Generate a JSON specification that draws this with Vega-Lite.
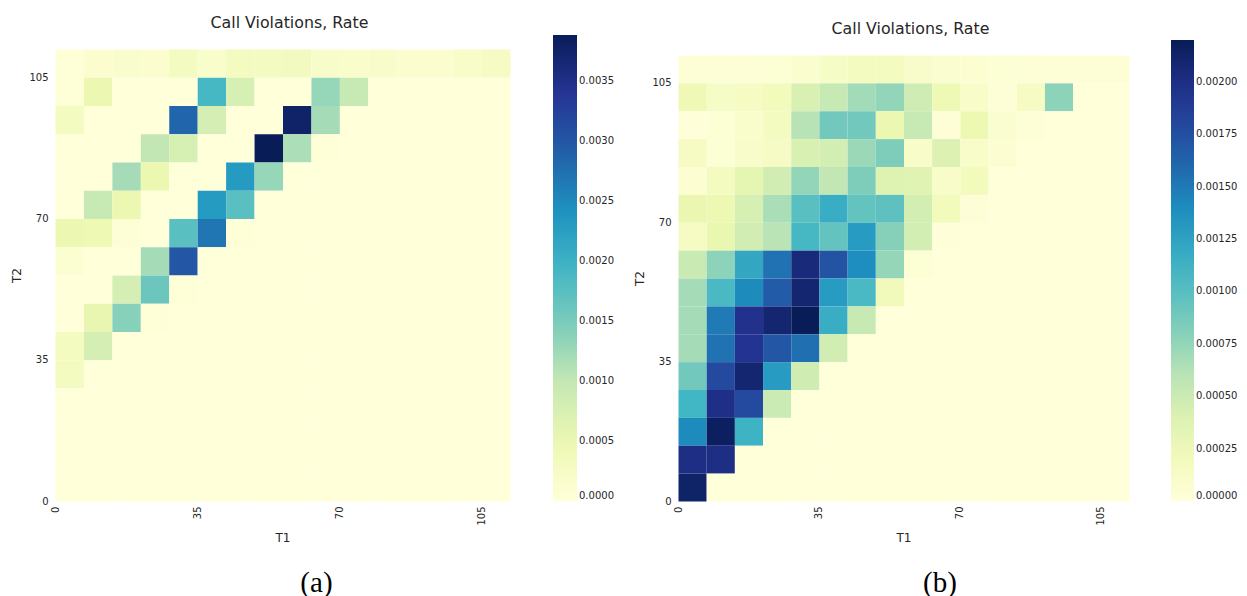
{
  "$schema": "https://vega.github.io/schema/vega-lite/v6.json",
  "background": "white",
  "padding": {"left": 10, "top": 15, "right": 0, "bottom": 0},
  "config": {
    "font": "DejaVu Sans",
    "view": {"stroke": null},
    "axis": {"domain": false, "ticks": false, "tickSize": 0, "grid": false, "labelFontSize": 10, "labelColor": "#262626", "titleFontSize": 12, "titleFontWeight": "normal", "titleColor": "#262626", "labelFlush": false, "labelOverlap": false, "labelBound": false},
    "legend": {"labelFontSize": 10, "labelColor": "#262626", "labelOffset": 6, "labelBaseline": "middle", "gradientStrokeWidth": 0, "direction": "vertical", "title": null},
    "title": {"font": "DejaVu Sans", "fontSize": 15.8, "fontWeight": "normal", "color": "#262626"},
    "concat": {"spacing": 19}
  },
  "datasets": {
    "a": [
      {"t1":0,"t2":105,"rate":0.00003},{"t1":7,"t2":105,"rate":0.00012},{"t1":14,"t2":105,"rate":0.00015},{"t1":21,"t2":105,"rate":0.00012},{"t1":28,"t2":105,"rate":0.0003},{"t1":35,"t2":105,"rate":0.00016},{"t1":42,"t2":105,"rate":0.0003},{"t1":49,"t2":105,"rate":0.0003},{"t1":56,"t2":105,"rate":0.00032},{"t1":63,"t2":105,"rate":0.00018},{"t1":70,"t2":105,"rate":0.00016},{"t1":77,"t2":105,"rate":0.00018},{"t1":84,"t2":105,"rate":0.00012},{"t1":91,"t2":105,"rate":0.00012},{"t1":98,"t2":105,"rate":0.0002},{"t1":105,"t2":105,"rate":0.00027},
      {"t1":0,"t2":98,"rate":0.00002},{"t1":7,"t2":98,"rate":0.0005},{"t1":14,"t2":98,"rate":0},{"t1":21,"t2":98,"rate":0},{"t1":28,"t2":98,"rate":0},{"t1":35,"t2":98,"rate":0.0019},{"t1":42,"t2":98,"rate":0.00078},{"t1":49,"t2":98,"rate":0},{"t1":56,"t2":98,"rate":0},{"t1":63,"t2":98,"rate":0.0013},{"t1":70,"t2":98,"rate":0.00097},{"t1":77,"t2":98,"rate":0},{"t1":84,"t2":98,"rate":0},{"t1":91,"t2":98,"rate":0},{"t1":98,"t2":98,"rate":0},{"t1":105,"t2":98,"rate":0},
      {"t1":0,"t2":91,"rate":0.0003},{"t1":7,"t2":91,"rate":0},{"t1":14,"t2":91,"rate":0},{"t1":21,"t2":91,"rate":0},{"t1":28,"t2":91,"rate":0.00283},{"t1":35,"t2":91,"rate":0.0008},{"t1":42,"t2":91,"rate":0},{"t1":49,"t2":91,"rate":0},{"t1":56,"t2":91,"rate":0.00375},{"t1":63,"t2":91,"rate":0.0012},{"t1":70,"t2":91,"rate":0},{"t1":77,"t2":91,"rate":0},{"t1":84,"t2":91,"rate":0},{"t1":91,"t2":91,"rate":0},{"t1":98,"t2":91,"rate":0},{"t1":105,"t2":91,"rate":0},
      {"t1":0,"t2":84,"rate":0},{"t1":7,"t2":84,"rate":0},{"t1":14,"t2":84,"rate":0},{"t1":21,"t2":84,"rate":0.001},{"t1":28,"t2":84,"rate":0.00078},{"t1":35,"t2":84,"rate":0},{"t1":42,"t2":84,"rate":0},{"t1":49,"t2":84,"rate":0.00388},{"t1":56,"t2":84,"rate":0.00115},{"t1":63,"t2":84,"rate":0.00003},{"t1":70,"t2":84,"rate":0},{"t1":77,"t2":84,"rate":0},{"t1":84,"t2":84,"rate":0},{"t1":91,"t2":84,"rate":0},{"t1":98,"t2":84,"rate":0},{"t1":105,"t2":84,"rate":0},
      {"t1":0,"t2":77,"rate":0},{"t1":7,"t2":77,"rate":0},{"t1":14,"t2":77,"rate":0.0012},{"t1":21,"t2":77,"rate":0.0005},{"t1":28,"t2":77,"rate":0},{"t1":35,"t2":77,"rate":0},{"t1":42,"t2":77,"rate":0.0023},{"t1":49,"t2":77,"rate":0.0013},{"t1":56,"t2":77,"rate":0},{"t1":63,"t2":77,"rate":0},{"t1":70,"t2":77,"rate":0},{"t1":77,"t2":77,"rate":0},{"t1":84,"t2":77,"rate":0},{"t1":91,"t2":77,"rate":0},{"t1":98,"t2":77,"rate":0},{"t1":105,"t2":77,"rate":0},
      {"t1":0,"t2":70,"rate":0},{"t1":7,"t2":70,"rate":0.00097},{"t1":14,"t2":70,"rate":0.0005},{"t1":21,"t2":70,"rate":0},{"t1":28,"t2":70,"rate":0},{"t1":35,"t2":70,"rate":0.0023},{"t1":42,"t2":70,"rate":0.00175},{"t1":49,"t2":70,"rate":0},{"t1":56,"t2":70,"rate":0},{"t1":63,"t2":70,"rate":0},{"t1":70,"t2":70,"rate":0},{"t1":77,"t2":70,"rate":0},{"t1":84,"t2":70,"rate":0},{"t1":91,"t2":70,"rate":0},{"t1":98,"t2":70,"rate":0},{"t1":105,"t2":70,"rate":0},
      {"t1":0,"t2":63,"rate":0.0005},{"t1":7,"t2":63,"rate":0.00045},{"t1":14,"t2":63,"rate":0.00005},{"t1":21,"t2":63,"rate":0},{"t1":28,"t2":63,"rate":0.00175},{"t1":35,"t2":63,"rate":0.00268},{"t1":42,"t2":63,"rate":0.00003},{"t1":49,"t2":63,"rate":0},{"t1":56,"t2":63,"rate":0},{"t1":63,"t2":63,"rate":0},{"t1":70,"t2":63,"rate":0},{"t1":77,"t2":63,"rate":0},{"t1":84,"t2":63,"rate":0},{"t1":91,"t2":63,"rate":0},{"t1":98,"t2":63,"rate":0},{"t1":105,"t2":63,"rate":0},
      {"t1":0,"t2":56,"rate":0.0001},{"t1":7,"t2":56,"rate":0},{"t1":14,"t2":56,"rate":0},{"t1":21,"t2":56,"rate":0.0012},{"t1":28,"t2":56,"rate":0.003},{"t1":35,"t2":56,"rate":0},{"t1":42,"t2":56,"rate":0},{"t1":49,"t2":56,"rate":0},{"t1":56,"t2":56,"rate":0},{"t1":63,"t2":56,"rate":0},{"t1":70,"t2":56,"rate":0},{"t1":77,"t2":56,"rate":0},{"t1":84,"t2":56,"rate":0},{"t1":91,"t2":56,"rate":0},{"t1":98,"t2":56,"rate":0},{"t1":105,"t2":56,"rate":0},
      {"t1":0,"t2":49,"rate":0},{"t1":7,"t2":49,"rate":0},{"t1":14,"t2":49,"rate":0.0008},{"t1":21,"t2":49,"rate":0.0016},{"t1":28,"t2":49,"rate":0.00003},{"t1":35,"t2":49,"rate":0},{"t1":42,"t2":49,"rate":0},{"t1":49,"t2":49,"rate":0},{"t1":56,"t2":49,"rate":0},{"t1":63,"t2":49,"rate":0},{"t1":70,"t2":49,"rate":0},{"t1":77,"t2":49,"rate":0},{"t1":84,"t2":49,"rate":0},{"t1":91,"t2":49,"rate":0},{"t1":98,"t2":49,"rate":0},{"t1":105,"t2":49,"rate":0},
      {"t1":0,"t2":42,"rate":0},{"t1":7,"t2":42,"rate":0.00055},{"t1":14,"t2":42,"rate":0.0014},{"t1":21,"t2":42,"rate":0.00003},{"t1":28,"t2":42,"rate":0},{"t1":35,"t2":42,"rate":0},{"t1":42,"t2":42,"rate":0},{"t1":49,"t2":42,"rate":0},{"t1":56,"t2":42,"rate":0},{"t1":63,"t2":42,"rate":0},{"t1":70,"t2":42,"rate":0},{"t1":77,"t2":42,"rate":0},{"t1":84,"t2":42,"rate":0},{"t1":91,"t2":42,"rate":0},{"t1":98,"t2":42,"rate":0},{"t1":105,"t2":42,"rate":0},
      {"t1":0,"t2":35,"rate":0.0003},{"t1":7,"t2":35,"rate":0.0008},{"t1":14,"t2":35,"rate":0},{"t1":21,"t2":35,"rate":0},{"t1":28,"t2":35,"rate":0},{"t1":35,"t2":35,"rate":0},{"t1":42,"t2":35,"rate":0},{"t1":49,"t2":35,"rate":0},{"t1":56,"t2":35,"rate":0},{"t1":63,"t2":35,"rate":0},{"t1":70,"t2":35,"rate":0},{"t1":77,"t2":35,"rate":0},{"t1":84,"t2":35,"rate":0},{"t1":91,"t2":35,"rate":0},{"t1":98,"t2":35,"rate":0},{"t1":105,"t2":35,"rate":0},
      {"t1":0,"t2":28,"rate":0.0003},{"t1":7,"t2":28,"rate":0},{"t1":14,"t2":28,"rate":0},{"t1":21,"t2":28,"rate":0},{"t1":28,"t2":28,"rate":0},{"t1":35,"t2":28,"rate":0},{"t1":42,"t2":28,"rate":0},{"t1":49,"t2":28,"rate":0},{"t1":56,"t2":28,"rate":0},{"t1":63,"t2":28,"rate":0},{"t1":70,"t2":28,"rate":0},{"t1":77,"t2":28,"rate":0},{"t1":84,"t2":28,"rate":0},{"t1":91,"t2":28,"rate":0},{"t1":98,"t2":28,"rate":0},{"t1":105,"t2":28,"rate":0},
      {"t1":0,"t2":21,"rate":0},{"t1":7,"t2":21,"rate":0},{"t1":14,"t2":21,"rate":0},{"t1":21,"t2":21,"rate":0},{"t1":28,"t2":21,"rate":0},{"t1":35,"t2":21,"rate":0},{"t1":42,"t2":21,"rate":0},{"t1":49,"t2":21,"rate":0},{"t1":56,"t2":21,"rate":0},{"t1":63,"t2":21,"rate":0},{"t1":70,"t2":21,"rate":0},{"t1":77,"t2":21,"rate":0},{"t1":84,"t2":21,"rate":0},{"t1":91,"t2":21,"rate":0},{"t1":98,"t2":21,"rate":0},{"t1":105,"t2":21,"rate":0},
      {"t1":0,"t2":14,"rate":0},{"t1":7,"t2":14,"rate":0},{"t1":14,"t2":14,"rate":0},{"t1":21,"t2":14,"rate":0},{"t1":28,"t2":14,"rate":0},{"t1":35,"t2":14,"rate":0},{"t1":42,"t2":14,"rate":0},{"t1":49,"t2":14,"rate":0},{"t1":56,"t2":14,"rate":0},{"t1":63,"t2":14,"rate":0},{"t1":70,"t2":14,"rate":0},{"t1":77,"t2":14,"rate":0},{"t1":84,"t2":14,"rate":0},{"t1":91,"t2":14,"rate":0},{"t1":98,"t2":14,"rate":0},{"t1":105,"t2":14,"rate":0},
      {"t1":0,"t2":7,"rate":0},{"t1":7,"t2":7,"rate":0},{"t1":14,"t2":7,"rate":0},{"t1":21,"t2":7,"rate":0},{"t1":28,"t2":7,"rate":0},{"t1":35,"t2":7,"rate":0},{"t1":42,"t2":7,"rate":0},{"t1":49,"t2":7,"rate":0},{"t1":56,"t2":7,"rate":0},{"t1":63,"t2":7,"rate":0},{"t1":70,"t2":7,"rate":0},{"t1":77,"t2":7,"rate":0},{"t1":84,"t2":7,"rate":0},{"t1":91,"t2":7,"rate":0},{"t1":98,"t2":7,"rate":0},{"t1":105,"t2":7,"rate":0},
      {"t1":0,"t2":0,"rate":0},{"t1":7,"t2":0,"rate":0},{"t1":14,"t2":0,"rate":0},{"t1":21,"t2":0,"rate":0},{"t1":28,"t2":0,"rate":0},{"t1":35,"t2":0,"rate":0},{"t1":42,"t2":0,"rate":0},{"t1":49,"t2":0,"rate":0},{"t1":56,"t2":0,"rate":0},{"t1":63,"t2":0,"rate":0},{"t1":70,"t2":0,"rate":0},{"t1":77,"t2":0,"rate":0},{"t1":84,"t2":0,"rate":0},{"t1":91,"t2":0,"rate":0},{"t1":98,"t2":0,"rate":0},{"t1":105,"t2":0,"rate":0}
    ],
    "b": [
      {"t1":0,"t2":105,"rate":0.00002},{"t1":7,"t2":105,"rate":0.00003},{"t1":14,"t2":105,"rate":0.00003},{"t1":21,"t2":105,"rate":0.00004},{"t1":28,"t2":105,"rate":0.00008},{"t1":35,"t2":105,"rate":0.00013},{"t1":42,"t2":105,"rate":0.00017},{"t1":49,"t2":105,"rate":0.00017},{"t1":56,"t2":105,"rate":0.0001},{"t1":63,"t2":105,"rate":0.00007},{"t1":70,"t2":105,"rate":0.00005},{"t1":77,"t2":105,"rate":0.00004},{"t1":84,"t2":105,"rate":0.00003},{"t1":91,"t2":105,"rate":0.00002},{"t1":98,"t2":105,"rate":0.00002},{"t1":105,"t2":105,"rate":0.00002},
      {"t1":0,"t2":98,"rate":0.00025},{"t1":7,"t2":98,"rate":0.00013},{"t1":14,"t2":98,"rate":0.00016},{"t1":21,"t2":98,"rate":0.0002},{"t1":28,"t2":98,"rate":0.00042},{"t1":35,"t2":98,"rate":0.00055},{"t1":42,"t2":98,"rate":0.00069},{"t1":49,"t2":98,"rate":0.00075},{"t1":56,"t2":98,"rate":0.0005},{"t1":63,"t2":98,"rate":0.00024},{"t1":70,"t2":98,"rate":0.00012},{"t1":77,"t2":98,"rate":0.00002},{"t1":84,"t2":98,"rate":0.00015},{"t1":91,"t2":98,"rate":0.00077},{"t1":98,"t2":98,"rate":0},{"t1":105,"t2":98,"rate":0},
      {"t1":0,"t2":91,"rate":0.00001},{"t1":7,"t2":91,"rate":0.00004},{"t1":14,"t2":91,"rate":0.00009},{"t1":21,"t2":91,"rate":0.00017},{"t1":28,"t2":91,"rate":0.00061},{"t1":35,"t2":91,"rate":0.00088},{"t1":42,"t2":91,"rate":0.00088},{"t1":49,"t2":91,"rate":0.00028},{"t1":56,"t2":91,"rate":0.00055},{"t1":63,"t2":91,"rate":0.00003},{"t1":70,"t2":91,"rate":0.00027},{"t1":77,"t2":91,"rate":0.00007},{"t1":84,"t2":91,"rate":0.00002},{"t1":91,"t2":91,"rate":0},{"t1":98,"t2":91,"rate":0},{"t1":105,"t2":91,"rate":0},
      {"t1":0,"t2":84,"rate":0.00016},{"t1":7,"t2":84,"rate":0.00004},{"t1":14,"t2":84,"rate":0.0001},{"t1":21,"t2":84,"rate":0.00014},{"t1":28,"t2":84,"rate":0.00042},{"t1":35,"t2":84,"rate":0.00046},{"t1":42,"t2":84,"rate":0.00072},{"t1":49,"t2":84,"rate":0.00083},{"t1":56,"t2":84,"rate":0.00012},{"t1":63,"t2":84,"rate":0.0004},{"t1":70,"t2":84,"rate":0.00012},{"t1":77,"t2":84,"rate":0.00005},{"t1":84,"t2":84,"rate":0},{"t1":91,"t2":84,"rate":0},{"t1":98,"t2":84,"rate":0},{"t1":105,"t2":84,"rate":0},
      {"t1":0,"t2":77,"rate":0.00005},{"t1":7,"t2":77,"rate":0.00017},{"t1":14,"t2":77,"rate":0.00033},{"t1":21,"t2":77,"rate":0.00048},{"t1":28,"t2":77,"rate":0.00075},{"t1":35,"t2":77,"rate":0.00057},{"t1":42,"t2":77,"rate":0.00083},{"t1":49,"t2":77,"rate":0.00038},{"t1":56,"t2":77,"rate":0.00037},{"t1":63,"t2":77,"rate":0.00012},{"t1":70,"t2":77,"rate":0.0002},{"t1":77,"t2":77,"rate":0},{"t1":84,"t2":77,"rate":0},{"t1":91,"t2":77,"rate":0},{"t1":98,"t2":77,"rate":0},{"t1":105,"t2":77,"rate":0},
      {"t1":0,"t2":70,"rate":0.00029},{"t1":7,"t2":70,"rate":0.00027},{"t1":14,"t2":70,"rate":0.00044},{"t1":21,"t2":70,"rate":0.00066},{"t1":28,"t2":70,"rate":0.00099},{"t1":35,"t2":70,"rate":0.00117},{"t1":42,"t2":70,"rate":0.00095},{"t1":49,"t2":70,"rate":0.00097},{"t1":56,"t2":70,"rate":0.00046},{"t1":63,"t2":70,"rate":0.0002},{"t1":70,"t2":70,"rate":0.00002},{"t1":77,"t2":70,"rate":0},{"t1":84,"t2":70,"rate":0},{"t1":91,"t2":70,"rate":0},{"t1":98,"t2":70,"rate":0},{"t1":105,"t2":70,"rate":0},
      {"t1":0,"t2":63,"rate":0.00015},{"t1":7,"t2":63,"rate":0.0003},{"t1":14,"t2":63,"rate":0.00048},{"t1":21,"t2":63,"rate":0.0006},{"t1":28,"t2":63,"rate":0.00108},{"t1":35,"t2":63,"rate":0.00095},{"t1":42,"t2":63,"rate":0.0013},{"t1":49,"t2":63,"rate":0.0008},{"t1":56,"t2":63,"rate":0.00046},{"t1":63,"t2":63,"rate":0.00001},{"t1":70,"t2":63,"rate":0},{"t1":77,"t2":63,"rate":0},{"t1":84,"t2":63,"rate":0},{"t1":91,"t2":63,"rate":0},{"t1":98,"t2":63,"rate":0},{"t1":105,"t2":63,"rate":0},
      {"t1":0,"t2":56,"rate":0.00053},{"t1":7,"t2":56,"rate":0.00077},{"t1":14,"t2":56,"rate":0.00121},{"t1":21,"t2":56,"rate":0.00154},{"t1":28,"t2":56,"rate":0.00205},{"t1":35,"t2":56,"rate":0.00172},{"t1":42,"t2":56,"rate":0.00139},{"t1":49,"t2":56,"rate":0.00074},{"t1":56,"t2":56,"rate":0.00004},{"t1":63,"t2":56,"rate":0},{"t1":70,"t2":56,"rate":0},{"t1":77,"t2":56,"rate":0},{"t1":84,"t2":56,"rate":0},{"t1":91,"t2":56,"rate":0},{"t1":98,"t2":56,"rate":0},{"t1":105,"t2":56,"rate":0},
      {"t1":0,"t2":49,"rate":0.00068},{"t1":7,"t2":49,"rate":0.00106},{"t1":14,"t2":49,"rate":0.00141},{"t1":21,"t2":49,"rate":0.00167},{"t1":28,"t2":49,"rate":0.00209},{"t1":35,"t2":49,"rate":0.0013},{"t1":42,"t2":49,"rate":0.00106},{"t1":49,"t2":49,"rate":0.00021},{"t1":56,"t2":49,"rate":0},{"t1":63,"t2":49,"rate":0},{"t1":70,"t2":49,"rate":0},{"t1":77,"t2":49,"rate":0},{"t1":84,"t2":49,"rate":0},{"t1":91,"t2":49,"rate":0},{"t1":98,"t2":49,"rate":0},{"t1":105,"t2":49,"rate":0},
      {"t1":0,"t2":42,"rate":0.00068},{"t1":7,"t2":42,"rate":0.0015},{"t1":14,"t2":42,"rate":0.00196},{"t1":21,"t2":42,"rate":0.00209},{"t1":28,"t2":42,"rate":0.0022},{"t1":35,"t2":42,"rate":0.00117},{"t1":42,"t2":42,"rate":0.00055},{"t1":49,"t2":42,"rate":0},{"t1":56,"t2":42,"rate":0},{"t1":63,"t2":42,"rate":0},{"t1":70,"t2":42,"rate":0},{"t1":77,"t2":42,"rate":0},{"t1":84,"t2":42,"rate":0},{"t1":91,"t2":42,"rate":0},{"t1":98,"t2":42,"rate":0},{"t1":105,"t2":42,"rate":0},
      {"t1":0,"t2":35,"rate":0.00068},{"t1":7,"t2":35,"rate":0.00154},{"t1":14,"t2":35,"rate":0.00194},{"t1":21,"t2":35,"rate":0.0017},{"t1":28,"t2":35,"rate":0.00156},{"t1":35,"t2":35,"rate":0.00048},{"t1":42,"t2":35,"rate":0},{"t1":49,"t2":35,"rate":0},{"t1":56,"t2":35,"rate":0},{"t1":63,"t2":35,"rate":0},{"t1":70,"t2":35,"rate":0},{"t1":77,"t2":35,"rate":0},{"t1":84,"t2":35,"rate":0},{"t1":91,"t2":35,"rate":0},{"t1":98,"t2":35,"rate":0},{"t1":105,"t2":35,"rate":0},
      {"t1":0,"t2":28,"rate":0.00088},{"t1":7,"t2":28,"rate":0.00178},{"t1":14,"t2":28,"rate":0.00209},{"t1":21,"t2":28,"rate":0.0013},{"t1":28,"t2":28,"rate":0.00049},{"t1":35,"t2":28,"rate":0},{"t1":42,"t2":28,"rate":0},{"t1":49,"t2":28,"rate":0},{"t1":56,"t2":28,"rate":0},{"t1":63,"t2":28,"rate":0},{"t1":70,"t2":28,"rate":0},{"t1":77,"t2":28,"rate":0},{"t1":84,"t2":28,"rate":0},{"t1":91,"t2":28,"rate":0},{"t1":98,"t2":28,"rate":0},{"t1":105,"t2":28,"rate":0},
      {"t1":0,"t2":21,"rate":0.0011},{"t1":7,"t2":21,"rate":0.00198},{"t1":14,"t2":21,"rate":0.00178},{"t1":21,"t2":21,"rate":0.00052},{"t1":28,"t2":21,"rate":0},{"t1":35,"t2":21,"rate":0},{"t1":42,"t2":21,"rate":0},{"t1":49,"t2":21,"rate":0},{"t1":56,"t2":21,"rate":0},{"t1":63,"t2":21,"rate":0},{"t1":70,"t2":21,"rate":0},{"t1":77,"t2":21,"rate":0},{"t1":84,"t2":21,"rate":0},{"t1":91,"t2":21,"rate":0},{"t1":98,"t2":21,"rate":0},{"t1":105,"t2":21,"rate":0},
      {"t1":0,"t2":14,"rate":0.00141},{"t1":7,"t2":14,"rate":0.00216},{"t1":14,"t2":14,"rate":0.00112},{"t1":21,"t2":14,"rate":0},{"t1":28,"t2":14,"rate":0},{"t1":35,"t2":14,"rate":0},{"t1":42,"t2":14,"rate":0},{"t1":49,"t2":14,"rate":0},{"t1":56,"t2":14,"rate":0},{"t1":63,"t2":14,"rate":0},{"t1":70,"t2":14,"rate":0},{"t1":77,"t2":14,"rate":0},{"t1":84,"t2":14,"rate":0},{"t1":91,"t2":14,"rate":0},{"t1":98,"t2":14,"rate":0},{"t1":105,"t2":14,"rate":0},
      {"t1":0,"t2":7,"rate":0.002},{"t1":7,"t2":7,"rate":0.002},{"t1":14,"t2":7,"rate":0},{"t1":21,"t2":7,"rate":0},{"t1":28,"t2":7,"rate":0},{"t1":35,"t2":7,"rate":0},{"t1":42,"t2":7,"rate":0},{"t1":49,"t2":7,"rate":0},{"t1":56,"t2":7,"rate":0},{"t1":63,"t2":7,"rate":0},{"t1":70,"t2":7,"rate":0},{"t1":77,"t2":7,"rate":0},{"t1":84,"t2":7,"rate":0},{"t1":91,"t2":7,"rate":0},{"t1":98,"t2":7,"rate":0},{"t1":105,"t2":7,"rate":0},
      {"t1":0,"t2":0,"rate":0.00213},{"t1":7,"t2":0,"rate":0},{"t1":14,"t2":0,"rate":0},{"t1":21,"t2":0,"rate":0},{"t1":28,"t2":0,"rate":0},{"t1":35,"t2":0,"rate":0},{"t1":42,"t2":0,"rate":0},{"t1":49,"t2":0,"rate":0},{"t1":56,"t2":0,"rate":0},{"t1":63,"t2":0,"rate":0},{"t1":70,"t2":0,"rate":0},{"t1":77,"t2":0,"rate":0},{"t1":84,"t2":0,"rate":0},{"t1":91,"t2":0,"rate":0},{"t1":98,"t2":0,"rate":0},{"t1":105,"t2":0,"rate":0}
    ]
  },
  "resolve": {"scale": {"color": "independent"}, "legend": {"color": "independent"}},
  "hconcat": [
    {
      "title": {"text": "(a)", "orient": "bottom", "anchor": "middle", "frame": "bounds", "font": "Liberation Serif", "fontSize": 29, "color": "#000000", "offset": 26, "dx": 4},
      "resolve": {"scale": {"color": "independent"}, "legend": {"color": "independent"}},
      "vconcat": [
        {
          "title": {"text": "Call Violations, Rate", "anchor": "middle", "frame": "group", "offset": 3, "dx": 7},
          "width": 455,
          "height": 452,
          "data": {"name": "a"},
          "mark": {"type": "rect"},
          "encoding": {
            "x": {"field": "t1", "type": "quantitative", "bin": {"step": 7, "extent": [0, 112]}, "scale": {"domain": [0, 112]},
                  "axis": {"title": "T1", "values": [0, 35, 70, 105], "labelAngle": -90, "labelPadding": 5, "titlePadding": 7}},
            "y": {"field": "t2", "type": "quantitative", "bin": {"step": 7, "extent": [0, 112]}, "scale": {"domain": [0, 112]},
                  "axis": {"title": "T2", "values": [0, 35, 70, 105], "labelPadding": 7, "titlePadding": 5}},
            "color": {"field": "rate", "type": "quantitative",
                      "scale": {"domain": [0, 0.000485, 0.00097, 0.001455, 0.00194, 0.002425, 0.00291, 0.003395, 0.00388],
                                "range": ["#ffffd9", "#edf8b1", "#c7e9b4", "#7fcdbb", "#41b6c4", "#1d91c0", "#225ea8", "#253494", "#081d58"],
                                "interpolate": "rgb"},
                      "legend": {"orient": "none", "legendX": 498, "legendY": -14, "gradientLength": 466, "gradientThickness": 24,
                                 "values": [0, 0.0005, 0.001, 0.0015, 0.002, 0.0025, 0.003, 0.0035], "format": ".4f"}}
          }
        }
      ]
    },
    {
      "title": {"text": "(b)", "orient": "bottom", "anchor": "middle", "frame": "bounds", "font": "Liberation Serif", "fontSize": 29, "color": "#000000", "offset": 26, "dx": 4},
      "resolve": {"scale": {"color": "independent"}, "legend": {"color": "independent"}},
      "vconcat": [
        {
          "title": {"text": "Call Violations, Rate", "anchor": "middle", "frame": "group", "offset": 2, "dx": 7},
          "width": 451,
          "height": 452,
          "data": {"name": "b"},
          "mark": {"type": "rect"},
          "encoding": {
            "x": {"field": "t1", "type": "quantitative", "bin": {"step": 7, "extent": [0, 112]}, "scale": {"domain": [0, 112]},
                  "axis": {"title": "T1", "values": [0, 35, 70, 105], "labelAngle": -90, "labelPadding": 5, "titlePadding": 7}},
            "y": {"field": "t2", "type": "quantitative", "bin": {"step": 7, "extent": [0, 112]}, "scale": {"domain": [0, 112], "range": [452, 6]},
                  "axis": {"title": "T2", "values": [0, 35, 70, 105], "labelPadding": 7, "titlePadding": 5}},
            "color": {"field": "rate", "type": "quantitative",
                      "scale": {"domain": [0, 0.000275, 0.00055, 0.000825, 0.0011, 0.001375, 0.00165, 0.001925, 0.0022],
                                "range": ["#ffffd9", "#edf8b1", "#c7e9b4", "#7fcdbb", "#41b6c4", "#1d91c0", "#225ea8", "#253494", "#081d58"],
                                "interpolate": "rgb"},
                      "legend": {"orient": "none", "legendX": 493, "legendY": -9, "gradientLength": 461, "gradientThickness": 23,
                                 "values": [0, 0.00025, 0.0005, 0.00075, 0.001, 0.00125, 0.0015, 0.00175, 0.002], "format": ".5f"}}
          }
        }
      ]
    }
  ]
}
